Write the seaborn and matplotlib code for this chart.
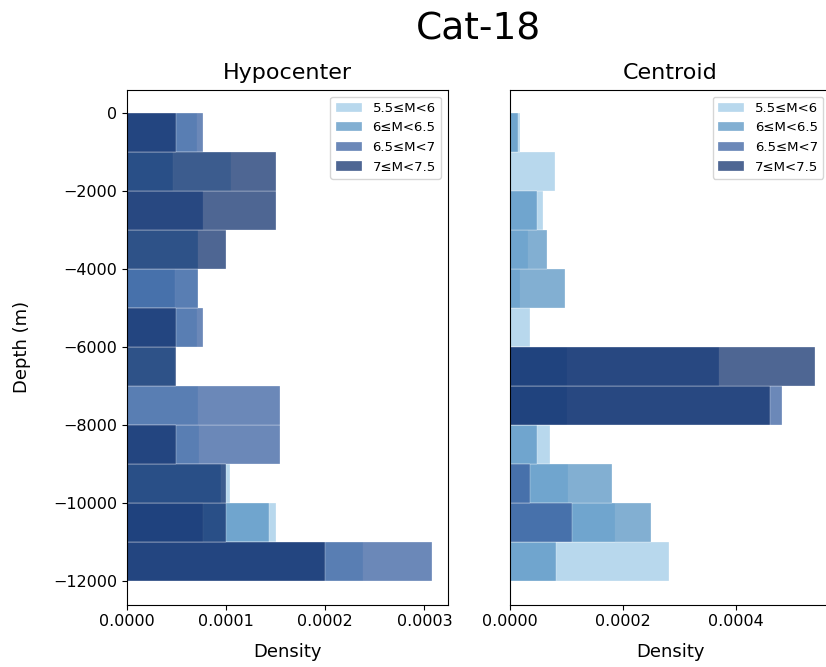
import numpy as np
import matplotlib
matplotlib.use("Agg")
import matplotlib.pyplot as plt
import seaborn as sns

# ---------------- data ----------------
depth_centers = [-500, -1500, -2500, -3500, -4500, -5500,
                 -6500, -7500, -8500, -9500, -10500, -11500]
bin_edges = [-12000, -11000, -10000, -9000, -8000, -7000, -6000,
             -5000, -4000, -3000, -2000, -1000, 0]

mag_labels = ["5.5≤M<6", "6≤M<6.5", "6.5≤M<7", "7≤M<7.5"]
mag_colors = ["#a0cbe8", "#5894c4", "#3a60a0", "#12336f"]

# densities per depth bin (top bin first), Hypocenter
hypo_55 = [7.1e-5, 10.5e-5, 0, 0, 7.2e-5, 7.1e-5, 0, 7.2e-5, 7.3e-5, 10.4e-5, 15.0e-5, 23.8e-5]
hypo_60 = [0, 4.7e-5, 0, 7.2e-5, 4.9e-5, 0, 4.9e-5, 0, 0, 9.5e-5, 14.3e-5, 0]
hypo_65 = [7.7e-5, 0, 7.7e-5, 0, 7.2e-5, 7.7e-5, 0, 15.4e-5, 15.4e-5, 0, 7.7e-5, 30.8e-5]
hypo_70 = [5.0e-5, 15.0e-5, 15.0e-5, 10.0e-5, 0, 5.0e-5, 5.0e-5, 0, 5.0e-5, 10.0e-5, 10.0e-5, 20.0e-5]

# Centroid
cent_55 = [1.8e-5, 7.9e-5, 5.9e-5, 3.2e-5, 1.8e-5, 3.5e-5, 0, 0, 7.0e-5, 10.2e-5, 18.6e-5, 28.2e-5]
cent_60 = [1.5e-5, 0, 4.7e-5, 6.5e-5, 9.7e-5, 0, 10.0e-5, 10.0e-5, 4.7e-5, 18.0e-5, 24.9e-5, 8.1e-5]
cent_65 = [0, 0, 0, 0, 0, 0, 36.9e-5, 48.1e-5, 0, 3.5e-5, 10.9e-5, 0]
cent_70 = [0, 0, 0, 0, 0, 0, 53.9e-5, 46.0e-5, 0, 0, 0, 0]

hypo_series = [hypo_55, hypo_60, hypo_65, hypo_70]
cent_series = [cent_55, cent_60, cent_65, cent_70]

# ---------------- figure ----------------
W, H = 826, 667
fig = plt.figure(figsize=(W / 100, H / 100), dpi=100)
ax1 = fig.add_axes([126.7 / W, 1 - 604.7 / H, 321 / W, 514.7 / H])
ax2 = fig.add_axes([510 / W, 1 - 604.7 / H, 320 / W, 514.7 / H], sharey=ax1)

for ax, series, title in [(ax1, hypo_series, "Hypocenter"),
                          (ax2, cent_series, "Centroid")]:
    for vals, lab, col in zip(series, mag_labels, mag_colors):
        sns.histplot(y=depth_centers, weights=vals, bins=bin_edges,
                     stat="count", color=col, alpha=0.75, label=lab,
                     edgecolor="white", linewidth=0.2, ax=ax)
    ax.set_title(title, fontsize=16, pad=8)
    ax.set_xlabel("Density", fontsize=13, labelpad=10)
    ax.tick_params(labelsize=11.5)
    ax.legend(loc="upper right", fontsize=9.5)

ax1.set_yticks([0, -2000, -4000, -6000, -8000, -10000, -12000])
ax1.set_ylabel("Depth (m)", fontsize=13, labelpad=16)
ax1.set_xticks([0, 0.0001, 0.0002, 0.0003])
ax2.set_xticks([0, 0.0002, 0.0004])
ax2.set_ylabel("")
ax2.tick_params(axis="y", left=False, labelleft=False)

fig.text(478 / W, 1 - 29 / H, "Cat-18", ha="center", va="center", fontsize=27)

fig.savefig("out.png", dpi=100)
